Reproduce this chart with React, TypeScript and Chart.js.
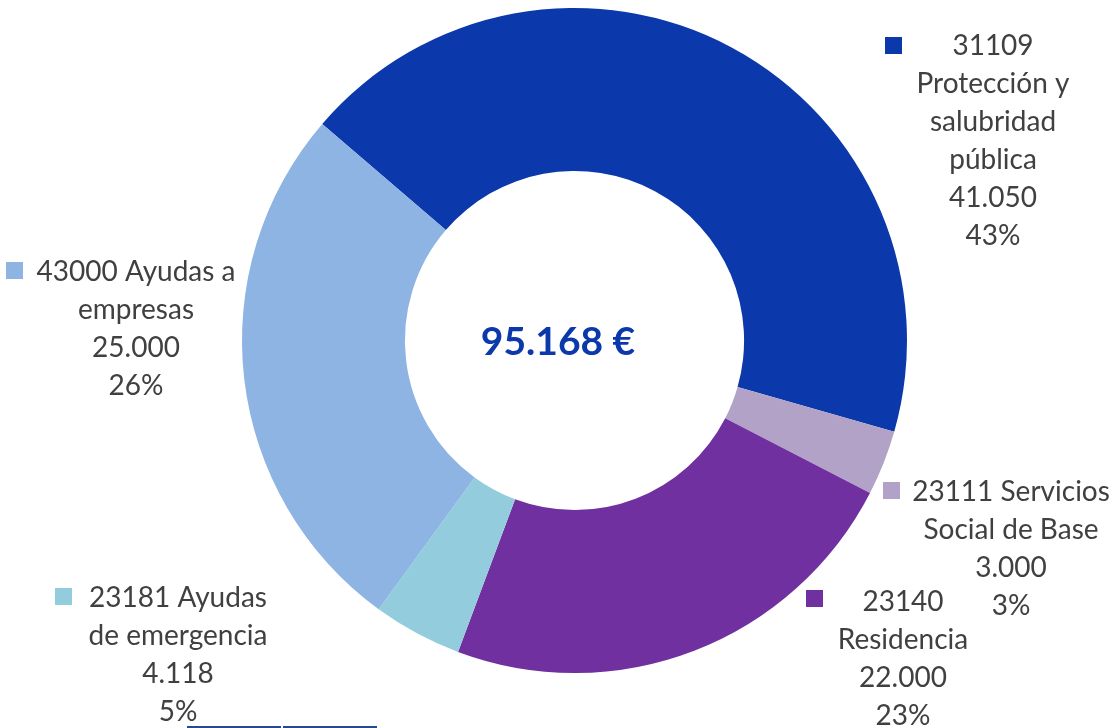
import React, { useEffect, useRef } from "react";
import { Chart, registerables } from "chart.js";

Chart.register(...registerables);

// ---- data ----
const categories = [
  "31109 Protección y salubridad pública",
  "23111 Servicios Social de Base",
  "23140 Residencia",
  "23181 Ayudas de emergencia",
  "43000 Ayudas a empresas",
];
const values = [41050, 3000, 22000, 4118, 25000];
const percentLabels = ["43%", "3%", "23%", "5%", "26%"];
const nameLines = [
  ["31109", "Protección y", "salubridad", "pública"],
  ["23111 Servicios", "Social de Base"],
  ["23140", "Residencia"],
  ["23181 Ayudas", "de emergencia"],
  ["43000 Ayudas a", "empresas"],
];
const colors = ["#0B38AB", "#B3A2C7", "#7030A0", "#93CDDD", "#8EB4E3"];

// ---- layout (label anchors) ----
const labelLayout = [
  { cx: 993, y0: 46, sx: 885, sy: 37 },
  { cx: 1011, y0: 492, sx: 883, sy: 482 },
  { cx: 903, y0: 602, sx: 806, sy: 590 },
  { cx: 178, y0: 598, sx: 55, sy: 588 },
  { cx: 136, y0: 272, sx: 6, sy: 262 },
];
const LINE_H = 38;
const SQ = 17;
const FONT = "Lato, 'Open Sans', sans-serif";
const CENTER_X = 558;

function fmt(n: number): string {
  return String(n).replace(/\B(?=(\d{3})+(?!\d))/g, ".");
}

const labelsPlugin = {
  id: "outerLabels",
  afterDraw(chart: any) {
    const ctx = chart.ctx as CanvasRenderingContext2D;
    ctx.save();
    // center total
    const total = values.reduce((a, b) => a + b, 0);
    const ca = chart.chartArea;
    const cy = (ca.top + ca.bottom) / 2;
    ctx.font = `bold 39px ${FONT}`;
    ctx.fillStyle = "#0B38AB";
    ctx.textAlign = "center";
    ctx.textBaseline = "middle";
    ctx.fillText(`${fmt(total)} €`, CENTER_X, cy + 2);

    // outer labels
    ctx.font = `28px ${FONT}`;
    values.forEach((v, i) => {
      const L = labelLayout[i];
      const lines = [...nameLines[i], fmt(v), percentLabels[i]];
      ctx.fillStyle = colors[i];
      ctx.fillRect(L.sx, L.sy, SQ, SQ);
      ctx.fillStyle = "#404040";
      lines.forEach((t, k) => {
        ctx.fillText(t, L.cx, L.y0 + k * LINE_H);
      });
    });

    // bottom decorative line fragment
    ctx.fillStyle = "#244B8F";
    ctx.fillRect(187, 726, 94, 2);
    ctx.fillRect(283, 726, 94, 2);
    ctx.restore();
  },
};

export default function App() {
  const ref = useRef<HTMLCanvasElement | null>(null);
  useEffect(() => {
    if (!ref.current) return;
    const chart = new Chart(ref.current, {
      type: "doughnut",
      data: {
        labels: categories,
        datasets: [
          {
            data: values,
            backgroundColor: colors,
            borderWidth: 0,
          },
        ],
      },
      options: {
        responsive: false,
        animation: false,
        cutout: "51%",
        rotation: -49.35,
        layout: { padding: { left: 242, right: 206, top: 8, bottom: 55 } },
        plugins: {
          legend: { display: false },
          tooltip: { enabled: false },
        },
      },
      plugins: [labelsPlugin],
    });
    return () => chart.destroy();
  }, []);
  return (
    <div style={{ position: "absolute", left: 0, top: 0, width: 1113, height: 728, background: "#fff" }}>
      <canvas ref={ref} width={1113} height={728} />
    </div>
  );
}
